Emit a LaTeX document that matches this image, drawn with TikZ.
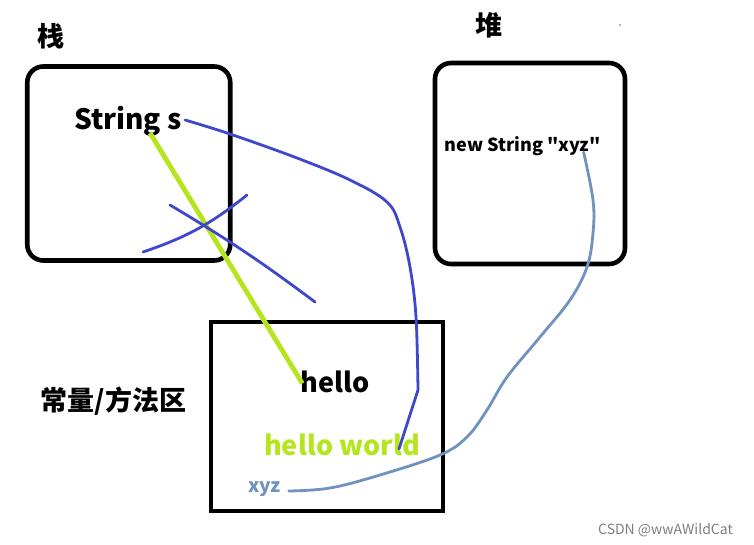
\documentclass[tikz,border=0pt]{standalone}
\usepackage{fontspec}
\setmainfont{Noto Sans CJK SC}
\newfontfamily\straightfont{Noto Sans CJK SC}[Ligatures=TeXOff]
\usetikzlibrary{positioning}
\definecolor{paintgreen}{HTML}{B5E61D}
\definecolor{paintblue}{HTML}{3F48CC}
\definecolor{paintgray}{HTML}{7092BE}
\newcommand{\fsz}[1]{\fontsize{#1}{#1}\selectfont}

\begin{document}
\begin{tikzpicture}[x=1pt,y=-1pt,
  box/.style={draw,line width=4.6pt,inner sep=0pt},
  lbl/.style={inner sep=0pt,font=\bfseries\fsz{27}},
  txt/.style={inner sep=0pt,anchor=base,font=\bfseries\fsz{27}},
  pen/.style={line width=2.8pt,line cap=round,line join=round}]
  \useasboundingbox[fill=white] (0,0) rectangle (754,545);
  \node[box,rounded corners=16pt,minimum width=203pt,minimum height=194pt] (stack) at (128.75,163.5) {};
  \node[box,rounded corners=16pt,minimum width=190pt,minimum height=201pt] (heap) at (530,163.5) {};
  \node[box,minimum width=232pt,minimum height=189pt] (pool) at (327,416.5) {};
  \node[lbl] (stacklbl) at (50.5,36) {栈};
  \node[lbl] (heaplbl) at (488.5,25.5) {堆};
  \node[lbl] (poollbl) at (113.5,401.5) {常量/方法区};
  \node[txt,font=\bfseries\fsz{28}] (strs) at (128,130) {String s};
  \node[txt,font=\straightfont\bfseries\fsz{18}] (newstr) at (522.5,152) {new String "xyz"};
  \node[txt] (hello) at (335,392) {hello};
  \node[txt,text=paintgreen] (hw) at (342,455) {hello world};
  \node[txt,text=paintgray,font=\bfseries\fsz{19}] (xyz) at (264.5,492) {xyz};
  \node[inner sep=0pt,anchor=base,text=gray,font=\fsz{14}] (mark) at (665.5,534) {CSDN @wwAWildCat};
  \fill[paintgray] (620,25) circle (1pt);

  \draw[pen,line width=4.8pt,paintgreen,line cap=butt] ([xshift=22pt,yshift=-3pt]strs.base) -- ([xshift=2pt,yshift=-2pt]hello.west);
  \draw[pen,paintblue] plot[smooth,tension=0.6] coordinates {([xshift=3pt,yshift=10pt]strs.base east) (230,134) (297,158) (350,180) (387,202) (400,227) (410,267) (416,317) (418,390)}
    -- ([xshift=-21pt,yshift=6pt]hw.base east);
  \draw[pen,paintgray] plot[smooth,tension=0.6] coordinates {([xshift=-17pt]newstr.base east) (593,200) (593,233) (587,267) (570,300) (540,337) (507,377) (487,410) (467,437) (440,455) (380,475) (330,488) ([xshift=8pt,yshift=1pt]xyz.base east)};

  \coordinate (crossa1) at (143,252);
  \coordinate (crossa2) at (247,195);
  \coordinate (crossb1) at (170,205);
  \coordinate (crossb2) at (315,302);
  \draw[pen,paintblue] (crossa1) to[bend right=10] (crossa2);
  \draw[pen,paintblue] (crossb1) to[bend left=3] (crossb2);
\end{tikzpicture}
\end{document}
